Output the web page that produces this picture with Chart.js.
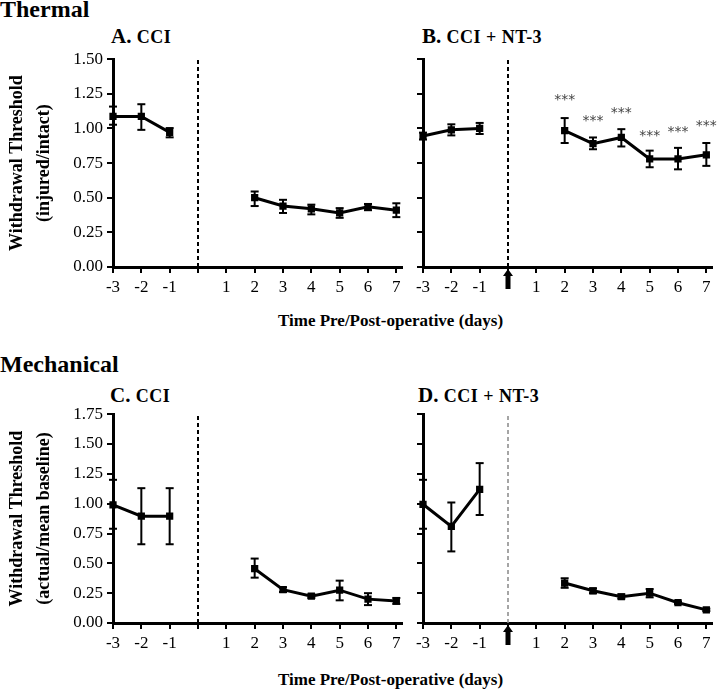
<!DOCTYPE html><html><head><title>Withdrawal Threshold</title>
<style>
html,body{margin:0;padding:0;background:#fff}
body{width:720px;height:689px;position:relative;overflow:hidden;font-family:"Liberation Serif",serif;font-weight:bold;color:#000}
canvas,.t{position:absolute}
.t{white-space:nowrap;line-height:1}
.h{font-size:24px}.p{font-size:21px}.p span{font-size:18px;letter-spacing:0.5px}.x{font-size:17px}
</style>
<script src="https://cdn.jsdelivr.net/npm/chart.js"></script>
</head><body>
<div class="t h" style="left:0;top:-3px">Thermal</div>
<div class="t h" style="left:0;top:352px">Mechanical</div>
<div class="t p" style="left:111px;top:26px">A. <span>CCI</span></div>
<div class="t p" style="left:422px;top:26px">B. <span>CCI + NT-3</span></div>
<div class="t p" style="left:110px;top:385px">C. <span>CCI</span></div>
<div class="t p" style="left:418px;top:385px">D. <span>CCI + NT-3</span></div>
<div class="t x" style="left:278px;top:312px">Time Pre/Post-operative (days)</div>
<div class="t x" style="left:278px;top:671px">Time Pre/Post-operative (days)</div>
<canvas id="a" width="420" height="262" style="left:0;top:45px"></canvas>
<canvas id="b" width="390" height="262" style="left:330px;top:45px"></canvas>
<canvas id="c" width="420" height="263" style="left:0;top:400px"></canvas>
<canvas id="d" width="390" height="263" style="left:330px;top:400px"></canvas>
<script>
const days = [-3, -2, -1, 0, 1, 2, 3, 4, 5, 6, 7];
// thermal, injured/intact
const thermalCCI   = [1.087, 1.087, 0.972, null, null, 0.50, 0.44, 0.42, 0.39, 0.435, 0.41];
const thermalCCILo = [1.027, 0.99, 0.936, null, null, 0.44, 0.39, 0.38, 0.355, 0.41, 0.36];
const thermalCCIHi = [1.158, 1.175, 1.003, null, null, 0.545, 0.485, 0.45, 0.425, 0.455, 0.46];
const thermalNT3   = [0.945, 0.99, 1.00, null, null, 0.985, 0.89, 0.935, 0.78, 0.78, 0.81];
const thermalNT3Lo = [0.92, 0.95, 0.96, null, null, 0.895, 0.85, 0.87, 0.72, 0.705, 0.73];
const thermalNT3Hi = [0.97, 1.03, 1.04, null, null, 1.075, 0.935, 0.995, 0.84, 0.86, 0.895];
const thermalStars = [null, null, null, null, null, 1.20, 1.05, 1.11, 0.94, 0.97, 1.015];
// mechanical, actual/mean baseline
const mechCCI   = [0.99, 0.895, 0.895, null, null, 0.455, 0.28, 0.225, 0.275, 0.20, 0.185];
const mechCCILo = [0.79, 0.66, 0.66, null, null, 0.38, 0.26, 0.21, 0.19, 0.15, 0.16];
const mechCCIHi = [1.20, 1.13, 1.13, null, null, 0.54, 0.30, 0.24, 0.355, 0.25, 0.21];
const mechNT3   = [0.995, 0.81, 1.12, null, null, 0.335, 0.27, 0.22, 0.25, 0.17, 0.11];
const mechNT3Lo = [0.79, 0.60, 0.905, null, null, 0.295, 0.25, 0.205, 0.215, 0.16, 0.10];
const mechNT3Hi = [1.20, 1.01, 1.34, null, null, 0.375, 0.29, 0.24, 0.285, 0.18, 0.12];

Chart.defaults.font.family = '"Liberation Serif", serif';
Chart.defaults.color = '#000';

const pts = v => days.map((d, i) => ({ x: d, y: v[i] }));
const errPts = (lo, hi) => days.flatMap((d, i) => lo[i] == null ? [] :
  [{ x: d, y: lo[i] }, { x: d, y: hi[i] }, { x: d, y: null }]);

const arrowMark = { id: 'arrowMark', afterDraw(chart) {
  const { ctx, scales: { x, y } } = chart;
  const px = x.getPixelForValue(0), py = y.getPixelForValue(0);
  ctx.save(); ctx.fillStyle = '#000'; ctx.beginPath();
  ctx.moveTo(px, py + 2); ctx.lineTo(px + 5, py + 9); ctx.lineTo(px + 2.5, py + 9);
  ctx.lineTo(px + 2.5, py + 22); ctx.lineTo(px - 2.5, py + 22); ctx.lineTo(px - 2.5, py + 9);
  ctx.lineTo(px - 5, py + 9); ctx.closePath(); ctx.fill(); ctx.restore();
} };
const starMarks = vals => ({ id: 'starMarks', afterDatasetsDraw(chart) {
  const { ctx, scales: { x, y } } = chart;
  ctx.save(); ctx.fillStyle = '#444'; ctx.font = '14px "DejaVu Sans"';
  ctx.textAlign = 'center'; ctx.textBaseline = 'middle';
  vals.forEach((v, i) => { if (v != null) ctx.fillText('***', x.getPixelForValue(days[i]), y.getPixelForValue(v)); });
  ctx.restore();
} });

function panel(id, o) {
  const datasets = [
    { data: [{ x: 0, y: 0 }, { x: 0, y: o.yMax }], borderColor: o.dashColor || '#000', borderWidth: o.dashWidth || 2,
      borderDash: [4, 3], pointRadius: 0, clip: false },
    { data: errPts(o.lo, o.hi), borderColor: '#000', borderWidth: 2, spanGaps: false,
      pointStyle: 'line', pointRadius: 4, pointBorderWidth: 2, pointBorderColor: '#000', clip: false },
    { data: pts(o.vals), borderColor: '#000', borderWidth: 3, spanGaps: false,
      pointStyle: 'rect', pointRadius: 3, pointBackgroundColor: '#000', pointBorderColor: '#000', clip: false }
  ];
  return new Chart(document.getElementById(id), {
    type: 'line',
    data: { datasets },
    plugins: o.plugins || [],
    options: {
      responsive: false, animation: false, devicePixelRatio: 1,
      layout: { padding: { top: 12, right: o.padRight, bottom: 0, left: 0 } },
      plugins: { legend: { display: false }, tooltip: { enabled: false } },
      scales: {
        x: { type: 'linear', min: -3, max: 7.2,
          afterBuildTicks: s => { s.ticks = days.map(v => ({ value: v })); },
          ticks: { callback: v => v === 0 ? '' : String(v), font: { size: 17 }, color: '#000', padding: 4, maxRotation: 0, autoSkip: false },
          grid: { drawOnChartArea: false, color: '#000', lineWidth: 2, tickLength: 6 },
          border: { color: '#000', width: 3 },
          afterFit: s => { s.height = 40; } },
        y: { min: 0, max: o.yMax,
          ticks: { stepSize: 0.25, callback: v => o.labels ? v.toFixed(2) : '', font: { size: 17 }, color: '#000', padding: 4 },
          grid: { drawOnChartArea: false, color: '#000', lineWidth: 2, tickLength: 6 },
          border: { color: '#000', width: 3 },
          title: o.yTitle ? { display: true, text: o.yTitle, color: '#000', font: { size: 18, weight: 'bold', lineHeight: 1.5 }, padding: { top: 4, bottom: 0 } } : { display: false },
          afterFit: s => { s.width = o.yWidth; } }
      }
    }
  });
}

panel('a', { vals: thermalCCI, lo: thermalCCILo, hi: thermalCCIHi, yMax: 1.5, labels: true, yWidth: 113, padRight: 18,
  yTitle: ['Withdrawal Threshold', '(injured/intact)'] });
panel('b', { vals: thermalNT3, lo: thermalNT3Lo, hi: thermalNT3Hi, yMax: 1.5, labels: false, yWidth: 93, padRight: 8,
  plugins: [arrowMark, starMarks(thermalStars)] });
panel('c', { vals: mechCCI, lo: mechCCILo, hi: mechCCIHi, yMax: 1.75, labels: true, yWidth: 113, padRight: 18,
  yTitle: ['Withdrawal Threshold', '(actual/mean baseline)'] });
panel('d', { vals: mechNT3, lo: mechNT3Lo, hi: mechNT3Hi, yMax: 1.75, labels: false, yWidth: 93, padRight: 8,
  dashColor: '#888', dashWidth: 1.5, plugins: [arrowMark] });
</script>
</body>
</html>
